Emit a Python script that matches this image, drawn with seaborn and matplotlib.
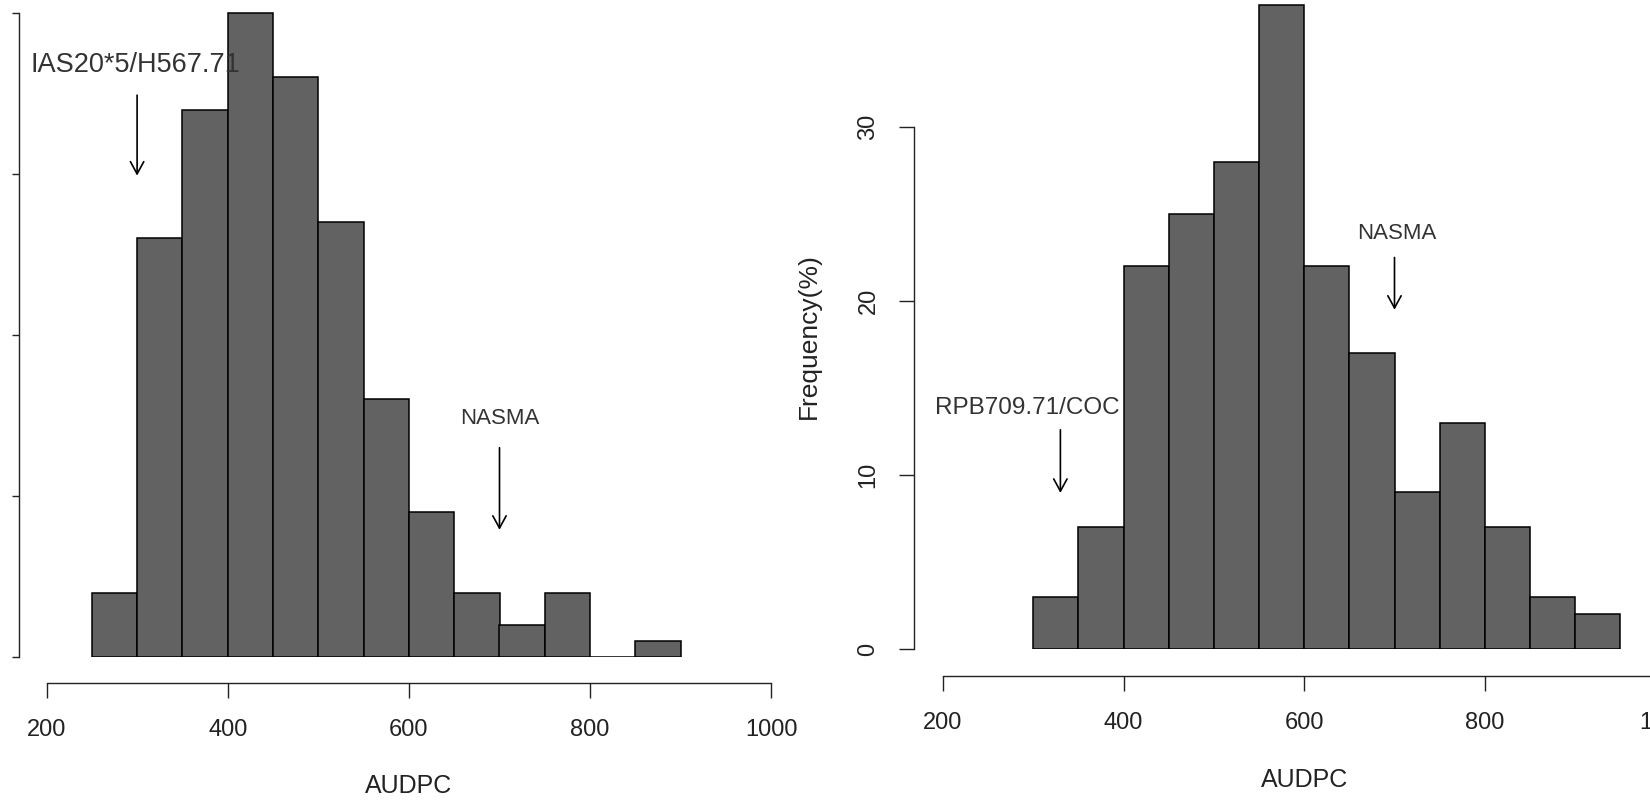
import numpy as np
import pandas as pd
import matplotlib
matplotlib.use("Agg")
import matplotlib.pyplot as plt
import seaborn as sns

# bin edges (AUDPC) and counts
left_edges = [250, 300, 350, 400, 450, 500, 550, 600, 650, 700, 750, 800, 850, 900]
left_counts = [4, 26, 34, 40, 36, 27, 16, 9, 4, 2, 4, 0, 1]

right_edges = [300, 350, 400, 450, 500, 550, 600, 650, 700, 750, 800, 850, 900, 950]
right_counts = [3, 7, 22, 25, 28, 37, 22, 17, 9, 13, 7, 3, 2]

x_ticks = [200, 400, 600, 800, 1000]
left_y_ticks = [0, 10, 20, 30, 40]
right_y_ticks = [0, 10, 20, 30]

BAR_COLOR = "#626262"

sns.set_style("ticks")
plt.rcParams["font.family"] = ["Liberation Sans", "DejaVu Sans"]
plt.rcParams["axes.linewidth"] = 1.0

W, H = 1650, 801
fig = plt.figure(figsize=(W / 100, H / 100), dpi=100)


def px_rect(x0, y_base, width, height):
    # pixel box (origin top-left) -> figure fraction
    return [x0 / W, (H - y_base) / H, width / W, height / H]


def draw_hist(ax, edges, counts):
    mids = [(a + b) / 2 for a, b in zip(edges[:-1], edges[1:])]
    df = pd.DataFrame({"AUDPC": mids, "n": counts})
    sns.histplot(data=df, x="AUDPC", weights="n", bins=list(edges), ax=ax,
                 color=BAR_COLOR, edgecolor="black", linewidth=1.1, alpha=1)


def arrow(ax, x, y0, y1):
    ax.annotate("", xy=(x, y1), xytext=(x, y0), annotation_clip=False,
                arrowprops=dict(arrowstyle="->,head_length=0.55,head_width=0.3",
                                color="black", lw=1.2, shrinkA=0, shrinkB=0,
                                mutation_scale=16))


def style_axes(ax, yticks, left_out, bottom_out, ylen):
    for s in ("top", "right"):
        ax.spines[s].set_visible(False)
    ax.spines["left"].set_position(("outward", left_out))
    ax.spines["bottom"].set_position(("outward", bottom_out))
    ax.spines["bottom"].set_bounds(x_ticks[0], x_ticks[-1])
    ax.spines["left"].set_bounds(yticks[0], yticks[-1])
    for s in ("left", "bottom"):
        ax.spines[s].set_color("#222222")
    ax.set_xticks(x_ticks)
    ax.set_yticks(yticks)
    ax.tick_params(axis="x", length=10.8, width=1.0, pad=15, labelsize=17,
                   colors="#222222")
    ax.tick_params(axis="y", length=ylen, width=1.0, pad=14, labelsize=17,
                   colors="#222222")
    ax.set_xlim(200, 1000)


# ---- left panel
ax1 = fig.add_axes(px_rect(46.5, 657, 724.8, 648.8))
draw_hist(ax1, left_edges, left_counts)
ax1.set_ylim(0, 40.3)
style_axes(ax1, left_y_ticks, 19.8, 18.7, 5)
ax1.tick_params(axis="y", labelleft=False)
ax1.set_ylabel("")
ax1.set_xlabel("AUDPC", fontsize=18, color="#222222")
ax1.xaxis.set_label_coords(0.5, -0.180)

ax1.text(298, 36.8, "IAS20*5/H567.71", ha="center", va="center", fontsize=19.5,
         color="#333333")
arrow(ax1, 300, 34.9, 29.9)
ax1.text(700, 14.8, "NASMA", ha="center", va="center", fontsize=16,
         color="#333333")
arrow(ax1, 700, 13.0, 7.9)

# ---- right panel
ax2 = fig.add_axes(px_rect(943, 649, 722.4, 649))
draw_hist(ax2, right_edges, right_counts)
ax2.set_ylim(0, 37.3)
style_axes(ax2, right_y_ticks, 20.9, 19.4, 10.8)
plt.setp(ax2.get_yticklabels(), rotation=90, va="center")
ax2.set_ylabel("Frequency(%)", fontsize=19, color="#222222")
ax2.yaxis.set_label_coords(-0.169, 0.482)
ax2.set_xlabel("AUDPC", fontsize=18, color="#222222")
ax2.xaxis.set_label_coords(0.5, -0.183)

ax2.text(293, 13.85, "RPB709.71/COC", ha="center", va="center", fontsize=17.5,
         color="#333333")
arrow(ax2, 330, 12.6, 8.97)
ax2.text(703, 23.9, "NASMA", ha="center", va="center", fontsize=16,
         color="#333333")
arrow(ax2, 700, 22.5, 19.5)

fig.savefig("out.png", dpi=100)
